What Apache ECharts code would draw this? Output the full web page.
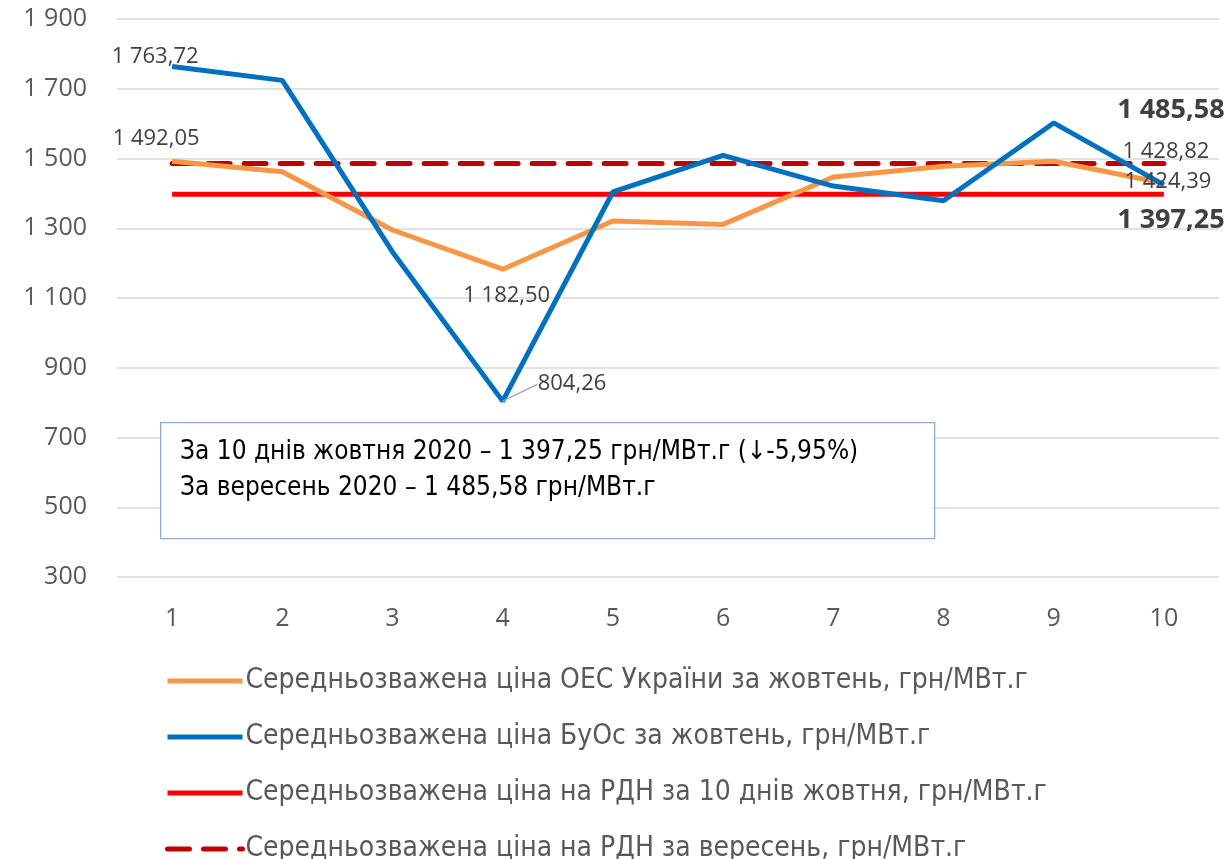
<!DOCTYPE html>
<html>
<head>
<meta charset="utf-8">
<script src="https://cdn.jsdelivr.net/npm/echarts@6/dist/echarts.min.js"></script>
<style>
  html, body { margin: 0; padding: 0; background: #fff; }
  #myChart { width: 1231px; height: 859px; }
</style>
</head>
<body>
<div id="myChart"></div>
<script>
var days = ["1", "2", "3", "4", "5", "6", "7", "8", "9", "10"];
var oesPrice = [1492.05, 1462, 1295, 1182.5, 1321, 1311, 1447, 1478, 1492, 1428.82];
var buosPrice = [1763.72, 1724, 1232, 804.26, 1404, 1509, 1421, 1379, 1602, 1424.39];
var rdnOctober = [1397.25, 1397.25, 1397.25, 1397.25, 1397.25, 1397.25, 1397.25, 1397.25, 1397.25, 1397.25];
var rdnSeptember = [1485.58, 1485.58, 1485.58, 1485.58, 1485.58, 1485.58, 1485.58, 1485.58, 1485.58, 1485.58];
var seriesNames = [
  "Середньозважена ціна ОЕС України за жовтень, грн/МВт.г",
  "Середньозважена ціна БуОс за жовтень, грн/МВт.г",
  "Середньозважена ціна на РДН за 10 днів жовтня, грн/МВт.г",
  "Середньозважена ціна на РДН за вересень, грн/МВт.г"
];
var boxLines = [
  "За 10 днів жовтня 2020 – 1 397,25 грн/МВт.г (↓-5,95%)",
  "За вересень 2020 – 1 485,58 грн/МВт.г"
];

var narrow = "'Liberation Sans Narrow', 'DejaVu Sans Condensed', 'Noto Sans', sans-serif";
var mainFont = "'Open Sans', 'Noto Sans', sans-serif";

function fmt(v, dec) {
  var s = v.toFixed(dec).split(".");
  var int = s[0].replace(/\B(?=(\d{3})+(?!\d))/g, " ");
  return s.length > 1 ? int + "," + s[1] : int;
}

// points that carry a value label
function lbl(arr, idxs) {
  return arr.map(function (v, i) {
    var o = idxs[i];
    if (!o) return v;
    var item = {
      value: v,
      label: {
        show: true,
        position: o.pos,
        offset: o.off || [0, 0],
        fontSize: o.size || 22,
        fontWeight: o.bold ? "bold" : "normal",
        color: "#404040",
        fontFamily: mainFont,
        formatter: function (p) { return fmt(p.value, 2); }
      }
    };
    if (o.guide) item.labelLine = { show: true, lineStyle: { color: "#a6a6a6", width: 1.2 } };
    return item;
  });
}

// blue series labels are moved with labelLayout (offset is ignored there)
var buosShift = { 0: [-17, 6], 3: [30, -17], 9: [4, 13] };

var myChart = echarts.init(document.getElementById("myChart"));
var option = {
  animation: false,
  backgroundColor: "#fff",
  grid: { left: 117, right: 12, top: 19, bottom: 282 },
  legend: {
    orient: "vertical",
    left: 165,
    top: 666,
    height: 200,
    padding: 0,
    itemWidth: 75,
    itemHeight: 14,
    itemGap: 26,
    itemStyle: { opacity: 0 },
    lineStyle: { width: 5 },
    textStyle: { fontSize: 28, color: "#595959", fontFamily: narrow, lineHeight: 30, padding: [0, 0, 0, -2] },
    data: seriesNames
  },
  xAxis: {
    type: "category",
    data: days,
    boundaryGap: true,
    axisLine: { show: false },
    axisTick: { show: false },
    axisLabel: { fontSize: 25, color: "#595959", margin: 29, fontFamily: mainFont }
  },
  yAxis: {
    type: "value",
    min: 300,
    max: 1900,
    interval: 200,
    axisLine: { show: false },
    axisTick: { show: false },
    axisLabel: {
      fontSize: 25, color: "#595959", margin: 30, fontFamily: mainFont,
      formatter: function (v) { return fmt(v, 0); }
    },
    splitLine: { lineStyle: { color: "#d9d9d9", width: 1.5 } }
  },
  series: [
    {
      name: seriesNames[0],
      type: "line",
      symbol: "circle",
      symbolSize: 0,
      z: 3,
      lineStyle: { color: "#F79646", width: 5 },
      itemStyle: { color: "#F79646" },
      data: lbl(oesPrice, {
        0: { pos: "top", off: [-16, -7] },
        3: { pos: "bottom", off: [4, 11] },
        9: { pos: "top", off: [2, -16] }
      })
    },
    {
      name: seriesNames[1],
      type: "line",
      symbol: "circle",
      symbolSize: 0,
      z: 4,
      lineStyle: { color: "#0070C0", width: 5 },
      itemStyle: { color: "#0070C0" },
      labelLayout: function (p) {
        var s = buosShift[p.dataIndex];
        if (s) return { dx: s[0], dy: s[1] };
      },
      data: lbl(buosPrice, {
        0: { pos: "top" },
        3: { pos: "right", guide: true },
        9: { pos: "top" }
      })
    },
    {
      name: seriesNames[2],
      type: "line",
      symbol: "circle",
      symbolSize: 0,
      z: 2,
      lineStyle: { color: "#FF0000", width: 5 },
      itemStyle: { color: "#FF0000" },
      data: lbl(rdnOctober, {
        9: { pos: "bottom", off: [7, 7], bold: true, size: 27 }
      })
    },
    {
      name: seriesNames[3],
      type: "line",
      symbol: "circle",
      symbolSize: 0,
      z: 2,
      lineStyle: { color: "#C00000", width: 5, type: [22, 14], cap: "round" },
      itemStyle: { color: "#C00000" },
      data: lbl(rdnSeptember, {
        9: { pos: "top", off: [7, -35], bold: true, size: 27 }
      })
    }
  ],
  graphic: [
    {
      type: "rect",
      left: 160,
      top: 422,
      shape: { width: 774, height: 116 },
      style: { fill: "#fff", stroke: "#8FAADC", lineWidth: 1.3 },
      z: 10
    },
    {
      type: "text",
      left: 180,
      top: 439,
      style: { text: boxLines[0], font: "26px " + narrow, fill: "#000" },
      z: 11
    },
    {
      type: "text",
      left: 180,
      top: 475,
      style: { text: boxLines[1], font: "26px " + narrow, fill: "#000" },
      z: 11
    }
  ]
};

myChart.setOption(option);
</script>
</body>
</html>
